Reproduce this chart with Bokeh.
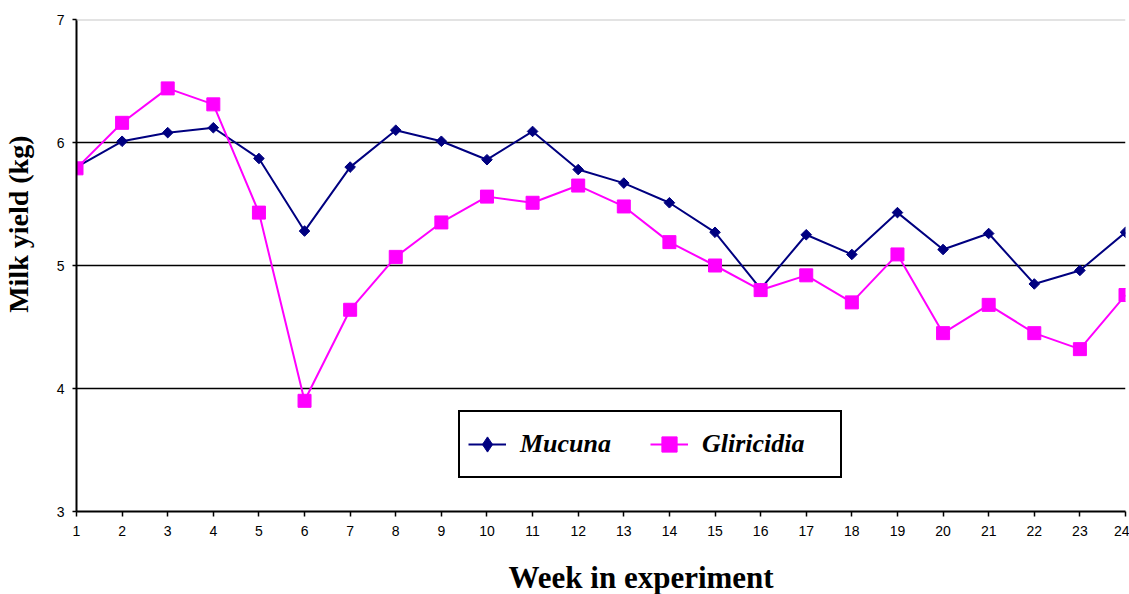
import math
from bokeh.plotting import figure
from bokeh.models import Range1d, FixedTicker, Span, Legend, LegendItem, Title
from bokeh.embed import file_html
from bokeh.resources import INLINE

weeks = list(range(1, 25))
mucuna = [5.80, 6.01, 6.08, 6.12, 5.87, 5.28, 5.80, 6.10, 6.01, 5.86, 6.09, 5.78,
          5.67, 5.51, 5.27, 4.81, 5.25, 5.09, 5.43, 5.13, 5.26, 4.85, 4.96, 5.27]
gliricidia = [5.79, 6.16, 6.44, 6.31, 5.43, 3.90, 4.64, 5.07, 5.35, 5.56, 5.51, 5.65,
              5.48, 5.19, 5.00, 4.80, 4.92, 4.70, 5.09, 4.45, 4.68, 4.45, 4.32, 4.76]
y_ticks = [3, 4, 5, 6, 7]
series_names = ["Mucuna", "Gliricidia"]
x_title = "Week in experiment"
y_title = "Milk yield (kg)"

NAVY = "#000080"
MAGENTA = "#FF00FF"

p = figure(width=1129, height=594, output_backend="svg", toolbar_location=None,
           x_range=Range1d(weeks[0], weeks[-1]),
           y_range=Range1d(y_ticks[0], y_ticks[-1]),
           min_border_left=76, min_border_top=19, min_border_right=4,
           min_border_bottom=83)
p.outline_line_color = None
p.background_fill_color = "white"
p.border_fill_color = "white"

# grid
p.xgrid.visible = False
p.ygrid.ticker = FixedTicker(ticks=y_ticks[1:-1])
p.ygrid.grid_line_color = "black"
p.ygrid.grid_line_width = 1.5
p.add_layout(Span(location=y_ticks[-1], dimension="width",
                  line_color="#c8c8c8", line_width=2))

# axes
p.xaxis.ticker = FixedTicker(ticks=weeks)
p.yaxis.ticker = FixedTicker(ticks=y_ticks)
for ax in (p.xaxis[0], p.yaxis[0]):
    ax.axis_line_color = "black"
    ax.axis_line_width = 2
    ax.major_tick_line_color = "black"
    ax.major_tick_line_width = 1.5
    ax.major_tick_in = 0
    ax.minor_tick_line_color = None
    ax.major_label_text_font = "Liberation Sans"
    ax.major_label_text_font_size = "14px"
    ax.major_label_text_color = "black"
    # blank spacer label, keeps the real titles at their original distance
    ax.axis_label = " "
    ax.axis_label_text_font = "Liberation Sans"
    ax.axis_label_text_font_size = "10px"

p.xaxis.major_tick_out = 5
p.xaxis.major_label_standoff = 9
p.xaxis.axis_label_standoff = 5
p.yaxis.major_tick_out = 4
p.yaxis.major_label_standoff = 8
p.yaxis.axis_label_standoff = 6

# axis titles (offset from centre as in the original)
p.add_layout(Title(text=x_title, align="left", offset=432, vertical_align="bottom",
                   standoff=0, text_font="Liberation Serif", text_font_style="bold",
                   text_font_size="31px", text_color="black"), "below")
p.add_layout(Title(text=y_title, align="right", offset=116, vertical_align="bottom",
                   standoff=0, text_font="Liberation Serif", text_font_style="bold",
                   text_font_size="28px", text_color="black"), "left")

# series
l1 = p.line(weeks, mucuna, line_color=NAVY, line_width=2)
# diamond used as the legend key (drawn at zero size under the plot markers)
m1_key = p.scatter(weeks, mucuna, marker="diamond", size=0,
                   fill_color=NAVY, line_color=NAVY)
m1 = p.scatter(weeks, mucuna, marker="square", size=7.5, angle=math.pi / 4,
               fill_color=NAVY, line_color=NAVY)
l2 = p.line(weeks, gliricidia, line_color=MAGENTA, line_width=2)
m2 = p.scatter(weeks, gliricidia, marker="square", size=13,
               fill_color=MAGENTA, line_color=MAGENTA)

legend = Legend(items=[LegendItem(label=series_names[0], renderers=[l1, m1_key]),
                       LegendItem(label=series_names[1], renderers=[l2, m2])],
                orientation="horizontal", location=(382, 33))
legend.border_line_color = "black"
legend.border_line_width = 2
legend.border_line_alpha = 1
legend.background_fill_color = "white"
legend.background_fill_alpha = 1
legend.padding = 8
legend.spacing = 0
legend.margin = 0
legend.glyph_width = 38
legend.glyph_height = 48
legend.label_height = 48
legend.label_width = 130
legend.label_standoff = 14
legend.label_text_font = "Liberation Serif"
legend.label_text_font_style = "bold italic"
legend.label_text_font_size = "26px"
legend.label_text_color = "black"
p.add_layout(legend, "center")

open("out.html", "w").write(file_html(p, INLINE))
